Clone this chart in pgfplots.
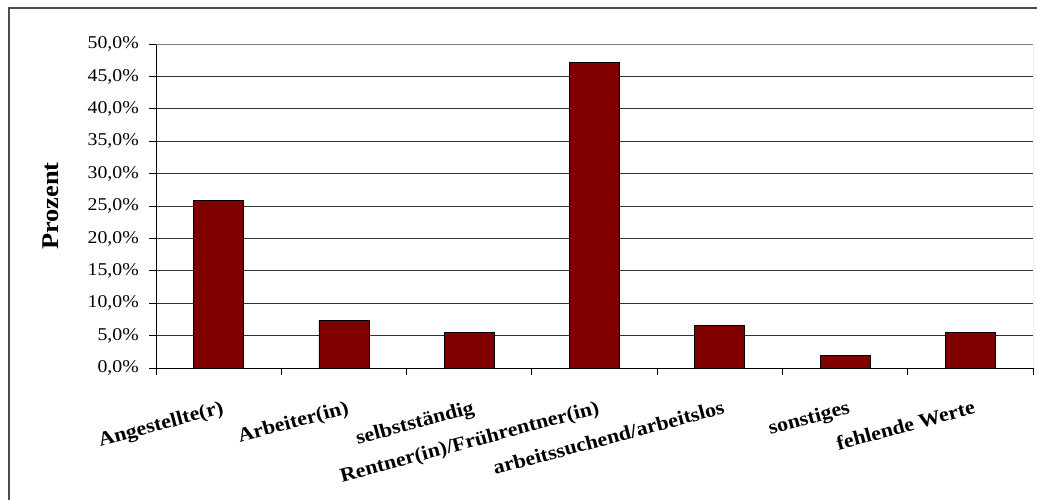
\documentclass[border=0pt]{standalone}
\usepackage{pgfplots}
\pgfplotsset{compat=1.18}
\usepackage{fontspec}
\setmainfont[FakeStretch=1.1]{Liberation Serif}
\definecolor{barred}{HTML}{800000}
\begin{document}
\begin{tikzpicture}
\clip (-156pt,-131pt) rectangle (881pt,368pt);
\draw[line width=1.5pt, black!70] (-147pt,-200pt) -- (-147pt,360pt) -- (900pt,360pt);
\begin{axis}[
  at={(0,0)}, anchor=south west,
  scale only axis, width=877pt, height=324pt,
  xmin=-0.5, xmax=6.5, ymin=0, ymax=50,
  axis x line*=bottom, axis y line*=left,
  axis line style={black, line width=0.8pt, -},
  ytick={0,5,...,50},
  /pgf/number format/assume math mode=true,
  yticklabel={\pgfmathprintnumber[fixed,fixed zerofill,precision=1,use comma]{\tick}\%},
  yticklabel style={font=\fontsize{18}{20}\selectfont, inner sep=0pt, xshift=-10pt},
  ymajorgrids, grid style={black!80, line width=0.8pt},
  tick align=outside, major tick length=7pt,
  tick style={black, line width=0.8pt},
  xtick={-0.5,0.5,...,6.5}, xticklabels={,,,,,,,},
  extra x ticks={0,1,2,3,4,5,6},
  extra x tick labels={Angestellte(r),Arbeiter(in),selbstständig,Rentner(in)/Frührentner(in),arbeitssuchend/arbeitslos,sonstiges,fehlende Werte},
  extra x tick style={major tick length=0pt, grid=none,
    xticklabel style={rotate=15, anchor=north east, inner sep=0pt, xshift=-6pt, yshift=-31pt,
      font=\bfseries\fontsize{20}{22}\selectfont}},
  ylabel={Prozent},
  ylabel style={at={(axis description cs:-0.1197,0.5)}, anchor=center, rotate=0,
    font=\bfseries\fontsize{24}{26}\selectfont},
]
\addplot[ybar, bar width=50pt, fill=barred, draw=black, line width=0.8pt]
  coordinates {(0,25.8) (1,7.4) (2,5.5) (3,47.1) (4,6.6) (5,1.9) (6,5.5)};
\draw[black!50, line width=0.8pt] (rel axis cs:0,1) -- (rel axis cs:1,1) -- (rel axis cs:1,0);
\end{axis}
\end{tikzpicture}
\end{document}
